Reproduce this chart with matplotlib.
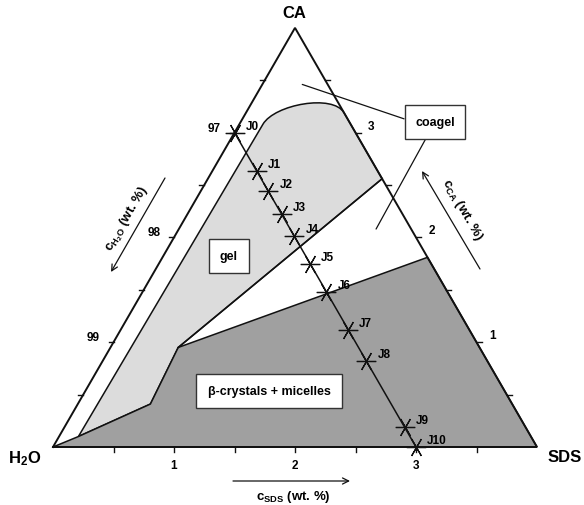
import numpy as np
import matplotlib
matplotlib.use("Agg")
import matplotlib.pyplot as plt
from matplotlib.path import Path
from matplotlib.patches import PathPatch, Polygon

plt.rcParams["font.family"] = ["Liberation Sans", "DejaVu Sans"]
plt.rcParams["font.weight"] = "bold"
plt.rcParams["mathtext.fontset"] = "custom"
plt.rcParams["mathtext.rm"] = "Liberation Sans:bold"
plt.rcParams["mathtext.it"] = "Liberation Sans:bold"
plt.rcParams["mathtext.bf"] = "Liberation Sans:bold"

# ---- data (wt. % of SDS and CA; water makes up the rest) ----
SPAN = 4.0  # concentration covered by each edge of the triangle

sample_names = ["J0", "J1", "J2", "J3", "J4", "J5", "J6", "J7", "J8", "J9", "J10"]
sample_sds = [0.00, 0.37, 0.56, 0.78, 0.99, 1.25, 1.52, 1.88, 2.18, 2.81, 3.00]
sample_ca = [3.00, 2.63, 2.44, 2.22, 2.01, 1.75, 1.48, 1.12, 0.82, 0.19, 0.00]

# beta-crystals + micelles region
crystal_sds = [0.00, 0.16, 0.60, 0.56, 2.19, 4.00]
crystal_ca = [0.00, 0.10, 0.41, 0.95, 1.81, 0.00]

# gel region: straight edges plus one cubic Bezier segment for the rounded cap
gel_sds = [0.16, 0.195, 0.197, 0.63, 0.81, 1.44, 0.56, 0.60, 0.16]
gel_ca = [0.10, 3.08, 3.27, 3.37, 3.19, 2.56, 0.95, 0.41, 0.10]
gel_codes = [Path.MOVETO, Path.LINETO, Path.CURVE4, Path.CURVE4, Path.CURVE4,
             Path.LINETO, Path.LINETO, Path.LINETO, Path.CLOSEPOLY]

# gel / coagel boundary
border_sds = [0.56, 1.44]
border_ca = [0.95, 2.56]

# where the coagel pointers end
coagel_sds = [0.33, 1.63]
coagel_ca = [3.46, 2.08]

tick_minor = [0.5, 1.0, 1.5, 2.0, 2.5, 3.0, 3.5]
tick_major = [1, 2, 3]
water_labels = ["99", "98", "97"]
sds_labels = ["1", "2", "3"]
ca_labels = ["1", "2", "3"]


def tern(s, c):
    s = np.asarray(s, float)
    c = np.asarray(c, float)
    return s / SPAN + c / (2 * SPAN), c / SPAN * np.sqrt(3) / 2


PX = 1 / 484.0  # one pixel in data units

fig = plt.figure(figsize=(5.84, 5.06), dpi=100)
ax = fig.add_axes([0, 0, 1, 1])
ax.set_xlim(-53 * PX, (584 - 53) * PX)
ax.set_ylim(-(506 - 448) * PX, 448 * PX)
ax.axis("off")

light = "#dcdcdc"
dark = "#a0a0a0"
ink = "#111111"

# gel region
gx, gy = tern(gel_sds, gel_ca)
ax.add_patch(PathPatch(Path(np.column_stack([gx, gy]), gel_codes),
                       facecolor=light, edgecolor=ink, lw=1.1, zorder=1))

# crystal region
cx, cy = tern(crystal_sds, crystal_ca)
ax.add_patch(Polygon(np.column_stack([cx, cy]), closed=True,
                     facecolor=dark, edgecolor=ink, lw=1.1, zorder=2))

bx, by = tern(border_sds, border_ca)
ax.plot(bx, by, color=ink, lw=1.1, zorder=3)

# triangle outline
tx, ty = tern([0, SPAN, 0, 0], [0, 0, SPAN, 0])
ax.plot(tx, ty, color=ink, lw=1.4, zorder=4, solid_joinstyle="miter")

# ticks
tl = 5 * PX
for v in tick_minor:
    x, y = tern(v, 0)
    ax.plot([x, x], [y, y - tl], color=ink, lw=1.0, zorder=4)
    x, y = tern(0, v)
    ax.plot([x, x - tl], [y, y], color=ink, lw=1.0, zorder=4)
    x, y = tern(SPAN - v, v)
    ax.plot([x, x + tl], [y, y], color=ink, lw=1.0, zorder=4)

fs_tick = 8.5
for v, lab in zip(tick_major, sds_labels):
    x, y = tern(v, 0)
    ax.text(x, y - 18 * PX, lab, ha="center", va="center", fontsize=fs_tick)
for v, lab in zip(tick_major, water_labels):
    x, y = tern(0, v)
    ax.text(x - 20 * PX, y + 5 * PX, lab, ha="center", va="center", fontsize=fs_tick)
for v, lab in zip(tick_major, ca_labels):
    x, y = tern(SPAN - v, v)
    ax.text(x + 16 * PX, y + 7 * PX, lab, ha="center", va="center", fontsize=fs_tick)

# vertex labels
ax.text(241 * PX, 434 * PX, "CA", ha="center", va="center", fontsize=12)
ax.text(-28 * PX, -11 * PX, "H$_2$O", ha="center", va="center", fontsize=12)
ax.text(512 * PX, -10 * PX, "SDS", ha="center", va="center", fontsize=12)

# axis captions with arrows
arrow = dict(arrowstyle="->", color=ink, lw=0.9, shrinkA=0, shrinkB=0,
             mutation_scale=11)
fs_cap = 9.5
ax.annotate("", xy=(297 * PX, -34 * PX), xytext=(180 * PX, -34 * PX), arrowprops=arrow)
ax.text(240 * PX, -49 * PX, r"c$_{\rm SDS}$ (wt. %)", ha="center", va="center",
        fontsize=fs_cap)
ax.annotate("", xy=(58 * PX, 175 * PX), xytext=(112 * PX, 269 * PX), arrowprops=arrow)
ax.text(74 * PX, 229 * PX, r"c$_{\rm H_2O}$ (wt. %)", ha="center", va="center",
        fontsize=fs_cap, rotation=60, rotation_mode="anchor")
ax.annotate("", xy=(369 * PX, 276 * PX), xytext=(427 * PX, 178 * PX), arrowprops=arrow)
ax.text(409 * PX, 238 * PX, r"c$_{\rm CA}$ (wt. %)", ha="center", va="center",
        fontsize=fs_cap, rotation=-60, rotation_mode="anchor")

# dilution line with samples
sx, sy = tern(sample_sds, sample_ca)
ax.plot(sx, sy, color=ink, lw=1.1, zorder=5)
ax.plot(sx, sy, ls="none", marker=(6, 2, 30), markersize=14, mew=0.9,
        color=ink, zorder=6)
for name, x, y in zip(sample_names, sx, sy):
    ax.annotate(name, (x, y), xytext=(8, 5), textcoords="offset points",
                ha="left", va="center", fontsize=8.5, zorder=7)

# region labels
fs_box = 9
box = dict(boxstyle="square,pad=0.85", facecolor="white", edgecolor="#333333", lw=1.0)
ax.text(176 * PX, 191 * PX, "gel", ha="center", va="center", fontsize=fs_box,
        bbox=box, zorder=8)
ax.text(216 * PX, 56 * PX, "β-crystals + micelles", ha="center", va="center",
        fontsize=fs_box, bbox=dict(box, boxstyle="square,pad=0.9"), zorder=8)

px_c, py_c = tern(coagel_sds, coagel_ca)
coagel_pos = (382 * PX, 325 * PX)
ax.annotate("coagel", xy=(px_c[0], py_c[0]), xytext=coagel_pos, ha="center",
            va="center", fontsize=fs_box, bbox=dict(box, boxstyle="square,pad=0.85"),
            arrowprops=dict(arrowstyle="-", color=ink, lw=0.9, shrinkA=0, shrinkB=0,
                            relpos=(0.0, 0.45)), zorder=8)
ax.annotate("", xy=(px_c[1], py_c[1]), xytext=coagel_pos, ha="center", va="center",
            fontsize=fs_box,
            arrowprops=dict(arrowstyle="-", color=ink, lw=0.9, shrinkA=0, shrinkB=0),
            zorder=7)

fig.savefig("out.png", dpi=100)
